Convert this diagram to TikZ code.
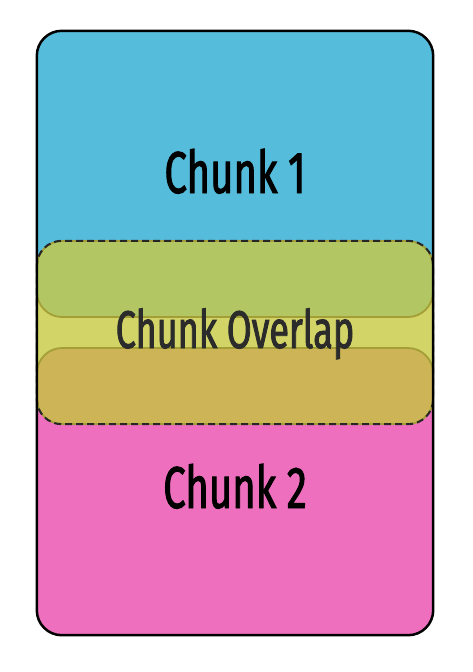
\documentclass[tikz,border=0pt]{standalone}
\usepackage{fontspec}
\newfontfamily\chunkfont[FakeStretch=0.68, FakeBold=1.6]{Fira Sans}
\usetikzlibrary{positioning}
\definecolor{chunkblue}{HTML}{56BCDB}
\definecolor{chunkpink}{HTML}{EE6FBE}
\definecolor{overlapyellow}{HTML}{D3D467}
\definecolor{bandgreen}{HTML}{B2C664}
\definecolor{bandorange}{HTML}{CDB457}
\definecolor{bandline}{HTML}{A39F36}
\definecolor{overlaptext}{HTML}{2B2B2B}
\tikzset{
  chunk/.style={
    rectangle,
    rounded corners=25pt,
    minimum width=396pt,
    inner sep=0pt
  },
  band/.style={
    chunk,
    draw=bandline,
    line width=1.8pt
  },
  outline/.style={
    draw=black,
    line width=2.5pt,
    rounded corners=25pt
  },
  dashborder/.style={
    draw=black!85,
    line width=2pt,
    dash pattern=on 7pt off 4pt,
    rounded corners=25pt
  },
  label/.style={
    anchor=base,
    font=\chunkfont\fontsize{59}{60}\selectfont
  }
}

\begin{document}
\begin{tikzpicture}[x=1pt,y=-1pt]
\useasboundingbox (0,0) rectangle (472,672);

% --- Chunks ---
\node[chunk, fill=chunkblue, minimum height=309pt] (chunk1) at (235,185.5) {};
\node[chunk, fill=chunkpink, minimum height=310pt] (chunk2) at (235,480) {};

% --- Overlap ---
\node[chunk, fill=overlapyellow, minimum height=183pt] (overlap) at (235,332.5) {};
\node[band, fill=bandgreen, minimum height=76pt] (band1) at (235,279) {};
\node[band, fill=bandorange, minimum height=76pt] (band2) at (235,386) {};
\draw[dashborder] (overlap.north west) rectangle (overlap.south east);

% --- Outer border ---
\draw[outline] (chunk1.north west) rectangle (chunk2.south east);

% --- Labels ---
\node[label] (lab1) at (235,193) {Chunk 1};
\node[label, text=overlaptext, font=\chunkfont\fontsize{53}{54}\selectfont] (labov) at (235,348) {Chunk Overlap};
\node[label] (lab2) at (235,508) {Chunk 2};

\end{tikzpicture}
\end{document}
